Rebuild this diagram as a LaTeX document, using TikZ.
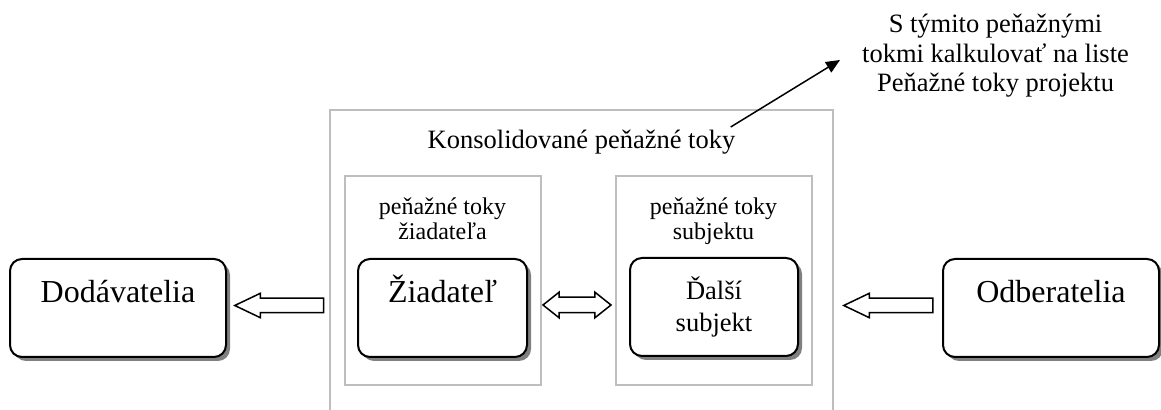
\documentclass[tikz,border=0pt]{standalone}
\usepackage{fontspec}
\setmainfont{Liberation Serif}
\usepackage{tikz}
\newcommand{\actorwidth}{108pt}
\newcommand{\actorheight}{49pt}
\newcommand{\flowwidth}{98pt}
\newcommand{\flowheight}{104.5pt}
\newcommand{\actorfont}{\fontsize{16pt}{19pt}\selectfont}
\newcommand{\titlefont}{\fontsize{13.25pt}{14.75pt}\selectfont}
\newcommand{\labelfont}{\fontsize{12pt}{12.5pt}\selectfont}
\definecolor{frameGray}{RGB}{190,190,190}
\definecolor{shadowGray}{RGB}{128,128,128}
\usetikzlibrary{arrows.meta,calc,positioning,shadows,shapes.arrows}
\tikzset{
  x=0.5pt,y=-0.5pt,
  actor/.style={draw,fill=white,line width=1pt,rounded corners=6pt,minimum width=\actorwidth,minimum height=\actorheight,inner sep=0pt,font=\actorfont,drop shadow={shadow xshift=2pt,shadow yshift=-2pt,fill=shadowGray,opacity=1}},
  toptext/.style={text height=22pt,text depth=27pt},
  frame/.style={draw=frameGray,line width=1pt,inner sep=0pt},
  caption/.style={inner sep=0pt,align=center},
  flow/.style={single arrow,draw,fill=white,line width=0.75pt,inner sep=3.25pt,single arrow head extend=2.5pt,single arrow tip angle=51,minimum height=44.5pt,shape border rotate=180},
  swap/.style={double arrow,draw,fill=white,line width=0.75pt,inner sep=3.5pt,double arrow head extend=2.5pt,double arrow tip angle=77,minimum height=34pt},
  pointer/.style={draw,line width=0.75pt,-{Triangle[length=7pt,width=6pt]}},
}

\begin{document}
\begin{tikzpicture}
      \useasboundingbox (0,0) rectangle (1161,410);
      % consolidated frame
      \node (consol) [frame,minimum width=251.5pt,minimum height=152.5pt,anchor=north] at (581.5,109) {};
      \node (consolText) [caption,font=\titlefont,anchor=north,below=10.5pt of consol.north] {Konsolidované peňažné toky};
      \node (appFlow) [frame,minimum width=\flowwidth,minimum height=\flowheight,anchor=north] at (442.5,175) {};
      \node (otherFlow) [frame,minimum width=\flowwidth,minimum height=\flowheight,anchor=north] at (713.5,175) {};
      \node (appFlowText) [caption,font=\labelfont,anchor=north,below=11pt of appFlow.north] {peňažné toky\\žiadateľa};
      \node (otherFlowText) [caption,font=\labelfont,anchor=north,below=11pt of otherFlow.north] {peňažné toky\\subjektu};
      % actors
      \node (supplier) [actor,toptext,anchor=north] at (118,258) {Dodávatelia};
      \node (applicant) [actor,toptext,minimum width=84.5pt,anchor=north] at (442.5,258) {Žiadateľ};
      \node (other) [actor,align=center,minimum width=84pt,font=\fontsize{13.25pt}{16pt}\selectfont] at (714,307) {Ďalší\\subjekt};
      \node (customer) [actor,toptext,anchor=north] at (1051,258) {Odberatelia};
      % flows
      \node (toSupplier) [flow,anchor=tip] at (233,305.5) {};
      \node (fromCustomer) [flow,anchor=tip] at (842,305.5) {};
      \node (exchange) [swap] at (577,305) {};
      % note
      \node (note) [caption,font=\titlefont,anchor=north] at (995.5,14) {S týmito peňažnými\\tokmi kalkulovať na liste\\Peňažné toky projektu};
      \coordinate (noteTip) at (840,60);
      \path [pointer] ([shift={(-2.5pt,1.5pt)}]consolText.north east) -- (noteTip);
    \end{tikzpicture}
\end{document}
